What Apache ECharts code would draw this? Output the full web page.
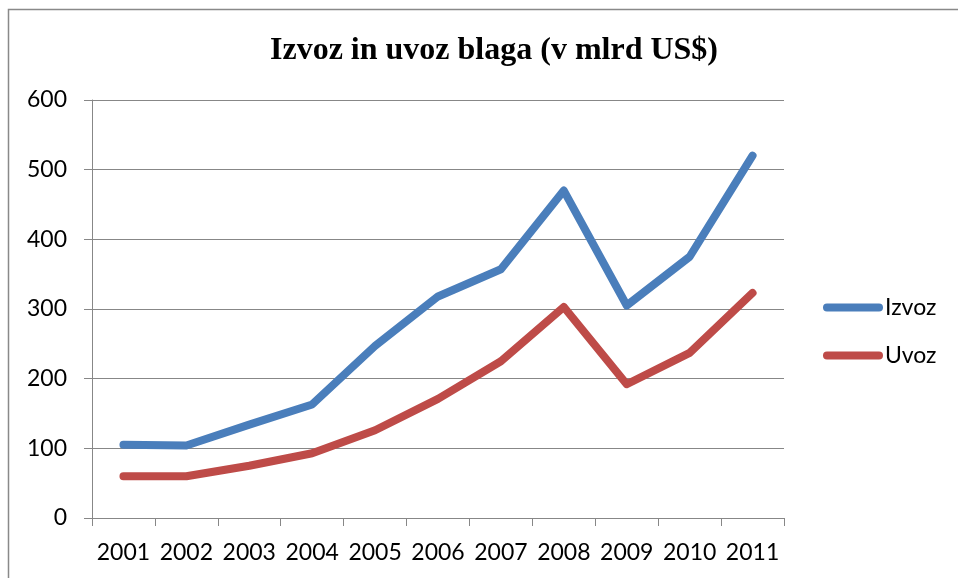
<!DOCTYPE html>
<head>
    <meta charset="utf-8"/>
    <style>
        html,body { height:100%; width:100%; margin:0; padding:0; background:#fff; }
    </style>
</head>
<body>

<div id="line" style="width: 958px;height:578px"></div>

<script src="https://cdn.jsdelivr.net/npm/echarts@6/dist/echarts.min.js"></script>
<script type="text/javascript">

 // podatki
 var years = ['2001','2002','2003','2004','2005','2006','2007','2008','2009','2010','2011'];
 var izvoz = [105, 104, 134, 163, 247, 318, 357, 470, 305, 375, 520];
 var uvoz = [60, 60, 75, 93, 126, 171, 225, 303, 192, 237, 323];
 var yTicks = [0, 100, 200, 300, 400, 500, 600];

 var legendIcon = 'path://M4 0H56A4 4 0 0 1 56 8H4A4 4 0 0 1 4 0Z';
 var gray = '#878787';

 var myLineChart = echarts.init(document.getElementById('line'));

 var lineOptions = {
    animation: false,
    color: ['#4A7EBB', '#BE4B48'],
    title: {
        text: 'Izvoz in uvoz blaga (v mlrd US$)',
        left: 489,
        textAlign: 'center',
        top: 30,
        textStyle: {
            fontFamily: 'Liberation Serif',
            fontWeight: 'bold',
            fontSize: 32,
            color: '#000'
        }
    },
    legend: {
        orient: 'vertical',
        left: 818,
        top: 291,
        itemWidth: 60,
        itemHeight: 8,
        itemGap: 25,
        selectedMode: false,
        icon: legendIcon,
        textStyle: {
            fontFamily: 'Lato',
            fontSize: 23,
            color: '#000',
            padding: [0, 0, 0, -3]
        },
        data: ['Izvoz', 'Uvoz']
    },
    grid: {
        left: 92,
        right: 174,
        top: 100,
        bottom: 60
    },
    xAxis: {
        type: 'category',
        data: years,
        boundaryGap: true,
        axisLine: { lineStyle: { color: gray, width: 1 } },
        axisTick: { show: true, length: 8, alignWithLabel: false, lineStyle: { color: gray } },
        axisLabel: {
            margin: 23,
            fontFamily: 'Lato',
            fontSize: 23,
            color: '#000',
            interval: 0
        }
    },
    yAxis: {
        type: 'value',
        min: yTicks[0],
        max: yTicks[yTicks.length - 1],
        interval: 100,
        axisLine: { show: true, lineStyle: { color: gray, width: 1 } },
        axisTick: { show: true, length: 8, lineStyle: { color: gray } },
        splitLine: { lineStyle: { color: gray, width: 1 } },
        axisLabel: {
            margin: 25,
            fontFamily: 'Lato',
            fontSize: 23,
            color: '#000'
        }
    },
    graphic: [{
        type: 'rect',
        shape: { x: 8.5, y: 9.5, width: 1200, height: 1200 },
        style: { fill: 'none', stroke: '#898989', lineWidth: 1.5 },
        silent: true
    }],
    series: [
        {
            name: 'Izvoz',
            type: 'line',
            data: izvoz,
            showSymbol: false,
            lineStyle: { width: 8, cap: 'round', join: 'round' }
        },
        {
            name: 'Uvoz',
            type: 'line',
            data: uvoz,
            showSymbol: false,
            lineStyle: { width: 8, cap: 'round', join: 'round' }
        }
    ]
 };

 myLineChart.setOption(lineOptions);
</script>
</body>
